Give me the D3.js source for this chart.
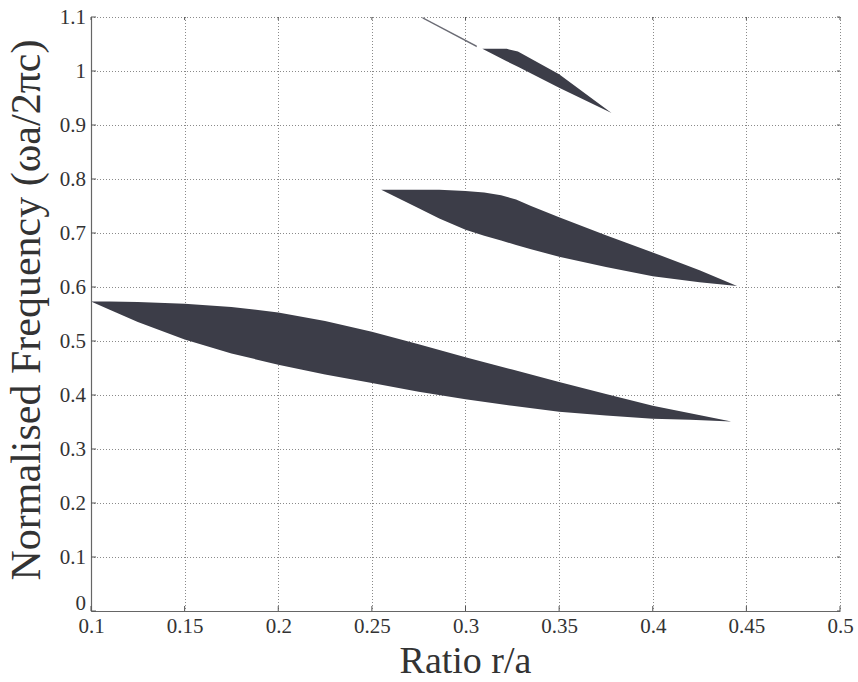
<!DOCTYPE html>
<html>
<head>
<meta charset="utf-8">
<script src="https://cdn.jsdelivr.net/npm/d3@7"></script>
<style>
  body { margin: 0; background: #fff; }
  svg text { font-family: "Liberation Serif", "Times New Roman", serif; fill: #333; }
</style>
</head>
<body>
<script>
"use strict";

var width = 858,
    height = 682;

// axes
const xTicks = [0.1, 0.15, 0.2, 0.25, 0.3, 0.35, 0.4, 0.45, 0.5];
const yTicks = [0, 0.1, 0.2, 0.3, 0.4, 0.5, 0.6, 0.7, 0.8, 0.9, 1, 1.1];

// band gaps: r/a, lower and upper edge of each gap
const gap1X     = [0.1,   0.11,  0.125, 0.15,  0.175, 0.2,   0.225, 0.25,  0.275, 0.3,   0.325, 0.35,  0.375, 0.4,   0.42,  0.442];
const gap1Upper = [0.573, 0.573, 0.572, 0.569, 0.563, 0.553, 0.537, 0.517, 0.494, 0.470, 0.447, 0.424, 0.402, 0.380, 0.366, 0.351];
const gap1Lower = [0.573, 0.558, 0.535, 0.503, 0.477, 0.456, 0.438, 0.422, 0.406, 0.392, 0.380, 0.369, 0.362, 0.356, 0.354, 0.351];

const gap2X     = [0.255, 0.275, 0.286, 0.3,   0.31,  0.319, 0.327, 0.335, 0.35,  0.375, 0.4,   0.425, 0.445];
const gap2Upper = [0.780, 0.780, 0.780, 0.778, 0.775, 0.770, 0.762, 0.750, 0.729, 0.696, 0.664, 0.631, 0.602];
const gap2Lower = [0.780, 0.746, 0.727, 0.706, 0.695, 0.686, 0.678, 0.670, 0.656, 0.637, 0.620, 0.609, 0.602];

const gap3X     = [0.309, 0.322, 0.328, 0.35,  0.378];
const gap3Upper = [1.041, 1.041, 1.036, 0.994, 0.922];
const gap3Lower = [1.041, 1.018, 1.008, 0.969, 0.922];

const gap4X     = [0.277, 0.306];
const gap4Upper = [1.100, 1.047];
const gap4Lower = [1.097, 1.044];

var margin = { top: 17, right: 18, bottom: 71, left: 91 };

var x = d3.scaleLinear().domain([0.1, 0.5]).range([margin.left, width - margin.right]);
var y = d3.scaleLinear().domain([0, 1.1]).range([height - margin.bottom, margin.top]);

var svg = d3.select("body").append("svg")
    .attr("width", width)
    .attr("height", height);

// grid
var grid = svg.append("g").attr("id", "grid")
    .attr("stroke", "#8a8a8a")
    .attr("stroke-width", 1)
    .attr("stroke-dasharray", "1,2");

grid.selectAll(".vx")
    .data(xTicks.slice(1))
    .enter()
    .append("line")
    .attr("x1", d => Math.round(x(d)) + 0.5)
    .attr("x2", d => Math.round(x(d)) + 0.5)
    .attr("y1", y(1.1))
    .attr("y2", y(0));

grid.selectAll(".hy")
    .data(yTicks.slice(1))
    .enter()
    .append("line")
    .attr("x1", x(0.1))
    .attr("x2", x(0.5))
    .attr("y1", d => Math.round(y(d)) + 0.5)
    .attr("y2", d => Math.round(y(d)) + 0.5);

// gaps
function makeGap(xs, lo, hi) {
    return xs.map((v, i) => ({ x: v, lo: lo[i], hi: hi[i] }));
}

var area = d3.area()
    .x(d => x(d.x))
    .y0(d => y(d.lo))
    .y1(d => y(d.hi));

var gaps = [
    makeGap(gap1X, gap1Lower, gap1Upper),
    makeGap(gap2X, gap2Lower, gap2Upper),
    makeGap(gap3X, gap3Lower, gap3Upper)
];

svg.append("g").attr("id", "gaps")
    .selectAll("path")
    .data(gaps)
    .enter()
    .append("path")
    .attr("d", area)
    .attr("fill", "#3c3d48");

svg.append("path")
    .datum(makeGap(gap4X, gap4Lower, gap4Upper))
    .attr("d", area)
    .attr("fill", "#6a6b74");

// axes
var xAxis = svg.append("g")
    .attr("transform", "translate(0," + y(0) + ")")
    .call(d3.axisBottom(x).tickValues(xTicks).tickFormat(d => String(d)).tickSize(0).tickPadding(7));

var yAxis = svg.append("g")
    .attr("transform", "translate(" + x(0.1) + ",0)")
    .call(d3.axisLeft(y).tickValues(yTicks).tickFormat(d => String(d)).tickSize(0).tickPadding(5));

[xAxis, yAxis].forEach(function (a) {
    a.attr("font-family", null).attr("font-size", null);
    a.select(".domain").attr("stroke", "#666").attr("stroke-width", 1.2);
    a.selectAll("text")
        .style("font-family", "'Liberation Serif', 'Times New Roman', serif")
        .style("font-size", "21px")
        .style("fill", "#333");
});

// the 0 label sits a little higher, as in the original
yAxis.selectAll(".tick text").filter(d => d === 0).attr("dy", "-0.05em");

// inner tick marks on all four sides
var ticks = svg.append("g").attr("stroke", "#555").attr("stroke-width", 1);
ticks.selectAll(".tb")
    .data(xTicks)
    .enter()
    .append("line")
    .attr("x1", d => x(d)).attr("x2", d => x(d))
    .attr("y1", y(0)).attr("y2", y(0) - 5);
ticks.selectAll(".tt")
    .data(xTicks)
    .enter()
    .append("line")
    .attr("x1", d => x(d)).attr("x2", d => x(d))
    .attr("y1", y(1.1)).attr("y2", y(1.1) + 3);
ticks.selectAll(".tl")
    .data(yTicks)
    .enter()
    .append("line")
    .attr("x1", x(0.1)).attr("x2", x(0.1) + 5)
    .attr("y1", d => y(d)).attr("y2", d => y(d));
ticks.selectAll(".tr")
    .data(yTicks)
    .enter()
    .append("line")
    .attr("x1", x(0.5)).attr("x2", x(0.5) - 3)
    .attr("y1", d => y(d)).attr("y2", d => y(d));

// titles
svg.append("text")
    .attr("x", (x(0.1) + x(0.5)) / 2)
    .attr("y", 673)
    .attr("text-anchor", "middle")
    .attr("font-size", 38)
    .text("Ratio r/a");

svg.append("text")
    .attr("transform", "translate(40,310) rotate(-90)")
    .attr("text-anchor", "middle")
    .attr("font-size", 42)
    .text("Normalised Frequency (ωa/2πc)");
</script>
</body>
</html>
